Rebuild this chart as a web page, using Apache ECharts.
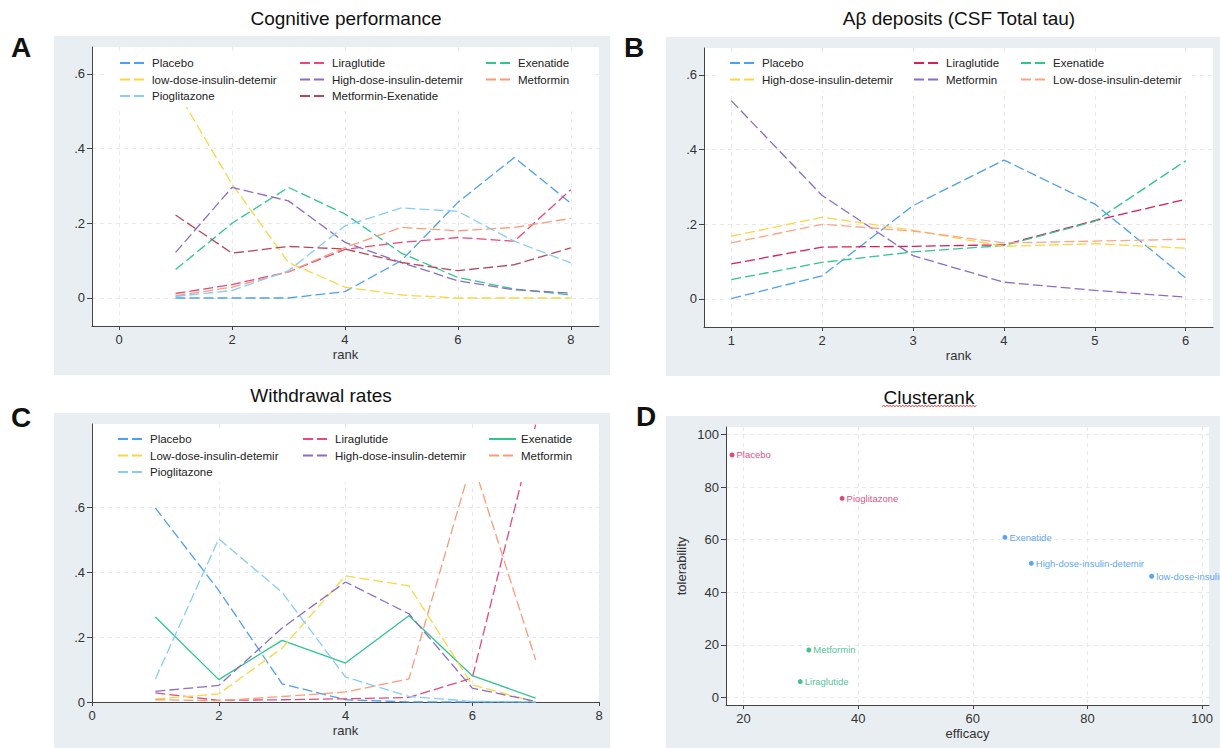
<!DOCTYPE html>
<html><head><meta charset="utf-8">
<script src="https://cdn.jsdelivr.net/npm/echarts@6/dist/echarts.min.js"></script>
<style>html,body{margin:0;padding:0;background:#fff}#c{width:1220px;height:748px}</style>
</head><body><div id="c"></div><script>
// ---------- Panel A: Cognitive performance (rank probabilities) ----------
const cogRanks = [1, 2, 3, 4, 5, 6, 7, 8];
const cogPlacebo      = [0, 0, 0, 0.017, 0.1, 0.256, 0.376, 0.254];
const cogLiraglutide  = [0.012, 0.036, 0.07, 0.13, 0.149, 0.162, 0.152, 0.29];
const cogExenatide    = [0.076, 0.2, 0.296, 0.225, 0.12, 0.055, 0.024, 0.008];
const cogLowDose      = [0.56, 0.305, 0.095, 0.029, 0.008, 0, 0, 0];
const cogHighDose     = [0.122, 0.296, 0.26, 0.149, 0.095, 0.046, 0.022, 0.013];
const cogMetformin    = [0.006, 0.029, 0.07, 0.135, 0.189, 0.18, 0.189, 0.213];
const cogPioglitazone = [0.004, 0.02, 0.073, 0.193, 0.241, 0.232, 0.152, 0.094];
const cogMetExe       = [0.222, 0.12, 0.138, 0.131, 0.095, 0.073, 0.089, 0.134];

// ---------- Panel B: Aβ deposits (CSF Total tau) ----------
const tauRanks = [1, 2, 3, 4, 5, 6];
const tauPlacebo     = [0.001, 0.062, 0.25, 0.372, 0.254, 0.056];
const tauLiraglutide = [0.094, 0.139, 0.141, 0.145, 0.21, 0.267];
const tauExenatide   = [0.052, 0.098, 0.126, 0.143, 0.208, 0.37];
const tauHighDose    = [0.168, 0.219, 0.184, 0.141, 0.148, 0.136];
const tauMetformin   = [0.531, 0.277, 0.116, 0.045, 0.023, 0.005];
const tauLowDose     = [0.15, 0.2, 0.182, 0.15, 0.155, 0.16];

// ---------- Panel C: Withdrawal rates ----------
const wdRanks = [1, 2, 3, 4, 5, 6, 7];
const wdPlacebo      = [0.598, 0.344, 0.056, 0.007, 0, 0, 0];
const wdLiraglutide  = [0.028, 0.005, 0.007, 0.01, 0.014, 0.074, 0.855];
const wdExenatide    = [0.262, 0.069, 0.19, 0.12, 0.266, 0.081, 0.012];
const wdLowDose      = [0.009, 0.025, 0.166, 0.389, 0.358, 0.053, 0];
const wdHighDose     = [0.033, 0.051, 0.228, 0.37, 0.272, 0.043, 0.002];
const wdMetformin    = [0.007, 0.004, 0.017, 0.031, 0.071, 0.745, 0.13];
const wdPioglitazone = [0.071, 0.503, 0.338, 0.077, 0.017, 0.002, 0];

// ---------- Panel D: Clusterank ----------
const clusterNames = ['Placebo', 'Pioglitazone', 'Exenatide', 'High-dose-insulin-detemir', 'low-dose-insulin-detemir', 'Metformin', 'Liraglutide'];
const clusterEfficacy     = [18.0, 37.2, 65.6, 70.2, 91.2, 31.4, 29.9];
const clusterTolerability = [92.2, 75.7, 60.9, 51.0, 46.1, 18.1, 6.1];
const clusterGroup        = [0, 0, 1, 1, 1, 2, 2];

// tick labels
const rankTicksA = [0, 2, 4, 6, 8];
const rankTicksB = [1, 2, 3, 4, 5, 6];
const rankTicksC = [0, 2, 4, 6, 8];
const probTicks  = [0, 0.2, 0.4, 0.6];
const effTicks   = [20, 40, 60, 80, 100];
const tolTicks   = [0, 20, 40, 60, 80, 100];

// ---------- styling ----------
const FONT = "'Liberation Sans', Arial, sans-serif";
const NARROW = "'Liberation Sans Narrow', 'Liberation Sans', Arial, sans-serif";
const C = {
  blue: '#4d9ff2', pink: '#e8487a', crimson: '#d91d55', green: '#2fc68c', yellow: '#fad643',
  purple: '#8c6cc4', salmon: '#fb9b78', salmonB: '#fca587', lightblue: '#86cdf7', maroon: '#b24a5c'
};
const AXIS_COLOR = '#444';
const GRID_LINE = '#e9e9e9';

function lineSeries(panel, name, gi, xs, ys, color, solid) {
  return {
    type: 'line', name: panel + '|' + name, xAxisIndex: gi, yAxisIndex: gi,
    data: xs.map((x, i) => [x, ys[i]]), symbol: 'none', silent: true,
    lineStyle: { color: color, width: 1.3, type: solid ? 'solid' : [10, 4] },
    itemStyle: { color: color }, z: 2
  };
}
const probFmt = v => v === 0 ? '0' : String(v).replace(/^0/, '');

function axis(gi, min, max, ticks, fmt, name, nameGap, isY) {
  const a = {
    gridIndex: gi, type: 'value', min: min, max: max,
    axisLine: { show: true, onZero: false, lineStyle: { color: AXIS_COLOR, width: 1 } },
    axisTick: { show: true, customValues: ticks, length: isY ? 5 : 4, lineStyle: { color: AXIS_COLOR } },
    axisLabel: { customValues: ticks, fontSize: 13, color: '#333', fontFamily: FONT, margin: 7, formatter: fmt },
    splitLine: { show: true, lineStyle: { color: GRID_LINE, type: [4, 4] } }
  };
  if (name) {
    a.name = name; a.nameLocation = 'middle'; a.nameGap = nameGap;
    a.nameTextStyle = { fontSize: 13, color: '#333', fontFamily: FONT };
  }
  return a;
}

const series = [
  lineSeries('A', 'Placebo', 0, cogRanks, cogPlacebo, C.blue),
  lineSeries('A', 'Liraglutide', 0, cogRanks, cogLiraglutide, C.pink),
  lineSeries('A', 'Exenatide', 0, cogRanks, cogExenatide, C.green),
  lineSeries('A', 'low-dose-insulin-detemir', 0, cogRanks, cogLowDose, C.yellow),
  lineSeries('A', 'High-dose-insulin-detemir', 0, cogRanks, cogHighDose, C.purple),
  lineSeries('A', 'Metformin', 0, cogRanks, cogMetformin, C.salmon),
  lineSeries('A', 'Pioglitazone', 0, cogRanks, cogPioglitazone, C.lightblue),
  lineSeries('A', 'Metformin-Exenatide', 0, cogRanks, cogMetExe, C.maroon),

  lineSeries('B', 'Placebo', 1, tauRanks, tauPlacebo, C.blue),
  lineSeries('B', 'Liraglutide', 1, tauRanks, tauLiraglutide, C.crimson),
  lineSeries('B', 'Exenatide', 1, tauRanks, tauExenatide, C.green),
  lineSeries('B', 'High-dose-insulin-detemir', 1, tauRanks, tauHighDose, C.yellow),
  lineSeries('B', 'Metformin', 1, tauRanks, tauMetformin, C.purple),
  lineSeries('B', 'Low-dose-insulin-detemir', 1, tauRanks, tauLowDose, C.salmonB),

  lineSeries('C', 'Placebo', 2, wdRanks, wdPlacebo, C.blue),
  lineSeries('C', 'Liraglutide', 2, wdRanks, wdLiraglutide, C.pink),
  lineSeries('C', 'Exenatide', 2, wdRanks, wdExenatide, C.green, true),
  lineSeries('C', 'Low-dose-insulin-detemir', 2, wdRanks, wdLowDose, C.yellow),
  lineSeries('C', 'High-dose-insulin-detemir', 2, wdRanks, wdHighDose, C.purple),
  lineSeries('C', 'Metformin', 2, wdRanks, wdMetformin, C.salmon),
  lineSeries('C', 'Pioglitazone', 2, wdRanks, wdPioglitazone, C.lightblue)
];

const clusterColors = ['#d8185a', '#2e8cf2', '#18b27a'];
[0, 1, 2].forEach(g => {
  const data = [];
  clusterNames.forEach((n, i) => {
    if (clusterGroup[i] === g) data.push({ name: n, value: [clusterEfficacy[i], clusterTolerability[i]] });
  });
  series.push({
    type: 'scatter', name: 'D|group' + g, xAxisIndex: 3, yAxisIndex: 3, data: data,
    symbol: 'circle', symbolSize: 5, itemStyle: { color: clusterColors[g] }, silent: true,
    label: { show: true, position: 'right', distance: 2, formatter: '{b}', fontSize: 9.5,
      color: clusterColors[g], fontFamily: NARROW }
  });
});

function legendCol(panel, names, left, top) {
  return {
    orient: 'vertical', left: left, top: top, padding: 0, itemGap: 4.5, itemWidth: 27, itemHeight: 12,
    selectedMode: false, data: names.map(n => panel + '|' + n), formatter: n => n.split('|')[1],
    textStyle: { fontSize: 11.5, color: '#222', fontFamily: FONT, lineHeight: 12 },
    itemStyle: { opacity: 0 }, z: 5
  };
}
const legends = [
  legendCol('A', ['Placebo', 'low-dose-insulin-detemir', 'Pioglitazone'], 119, 57),
  legendCol('A', ['Liraglutide', 'High-dose-insulin-detemir', 'Metformin-Exenatide'], 299, 57),
  legendCol('A', ['Exenatide', 'Metformin'], 485, 57),
  legendCol('B', ['Placebo', 'High-dose-insulin-detemir'], 729, 57),
  legendCol('B', ['Liraglutide', 'Metformin'], 913, 57),
  legendCol('B', ['Exenatide', 'Low-dose-insulin-detemir'], 1020, 57),
  legendCol('C', ['Placebo', 'Low-dose-insulin-detemir', 'Pioglitazone'], 117, 433),
  legendCol('C', ['Liraglutide', 'High-dose-insulin-detemir'], 302, 433),
  legendCol('C', ['Exenatide', 'Metformin'], 488, 433)
];

function txt(x, y, text, size, weight) {
  return { type: 'text', x: x, y: y, z: 10, silent: true,
    style: { text: text, fontSize: size, fontWeight: weight || 'normal', fontFamily: FONT, fill: '#111',
      align: 'center', verticalAlign: 'middle', textAlign: 'center', textVerticalAlign: 'middle' } };
}
function rect(x, y, w, h, fill, z) {
  return { type: 'rect', z: z, silent: true, shape: { x: x, y: y, width: w, height: h }, style: { fill: fill } };
}
const zig = [];
for (let x = 882, k = 0; x <= 977; x += 1.6, k++) zig.push([x, k % 2 ? 405 : 407]);

const graphics = [
  rect(54, 36, 556, 339, '#e8eef1', -10),
  rect(666, 37, 554, 339, '#e8eef1', -10),
  rect(54, 413, 556, 335, '#e8eef1', -10),
  rect(666, 416, 554, 332, '#e8eef1', -10),
  rect(108, 52, 485, 55, '#ffffff', 3),
  rect(720, 52, 470, 39, '#ffffff', 3),
  rect(108, 429, 485, 53, '#ffffff', 3),
  txt(346, 18, 'Cognitive performance', 19),
  txt(959, 18, 'Aβ deposits (CSF Total tau)', 19),
  txt(321, 395, 'Withdrawal rates', 19),
  txt(929, 397, 'Clusterank', 19),
  txt(21, 47, 'A', 28, 'bold'),
  txt(634, 47, 'B', 28, 'bold'),
  txt(21, 417, 'C', 28, 'bold'),
  txt(646, 416, 'D', 28, 'bold'),
  { type: 'polyline', z: 10, silent: true, shape: { points: zig }, style: { stroke: '#e0302a', lineWidth: 0.8, fill: null } }
];

const option = {
  animation: false,
  backgroundColor: '#ffffff',
  textStyle: { fontFamily: FONT },
  grid: [
    { left: 92, top: 47, width: 507, height: 279, show: true, backgroundColor: '#fff', borderWidth: 0 },
    { left: 704, top: 48, width: 509, height: 279, show: true, backgroundColor: '#fff', borderWidth: 0 },
    { left: 92, top: 424, width: 507, height: 278, show: true, backgroundColor: '#fff', borderWidth: 0 },
    { left: 726, top: 427, width: 483, height: 278, show: true, backgroundColor: '#fff', borderWidth: 0 }
  ],
  xAxis: [
    axis(0, -0.48, 8.5, rankTicksA, null, 'rank', 22, false),
    axis(1, 0.7, 6.3, rankTicksB, null, 'rank', 22, false),
    axis(2, 0, 8, rankTicksC, null, 'rank', 22, false),
    axis(3, 16.95, 101.2, effTicks, null, 'efficacy', 22, false)
  ],
  yAxis: [
    axis(0, -0.075, 0.672, probTicks, probFmt, null, 0, true),
    axis(1, -0.075, 0.672, probTicks, probFmt, null, 0, true),
    axis(2, 0, 0.857, probTicks, probFmt, null, 0, true),
    axis(3, -2.8, 102.8, tolTicks, null, 'tolerability', 38, true)
  ],
  legend: legends,
  graphic: { elements: graphics },
  series: series
};
const chart = echarts.init(document.getElementById('c'), null, { renderer: 'svg' });
chart.setOption(option);
</script></body></html>
